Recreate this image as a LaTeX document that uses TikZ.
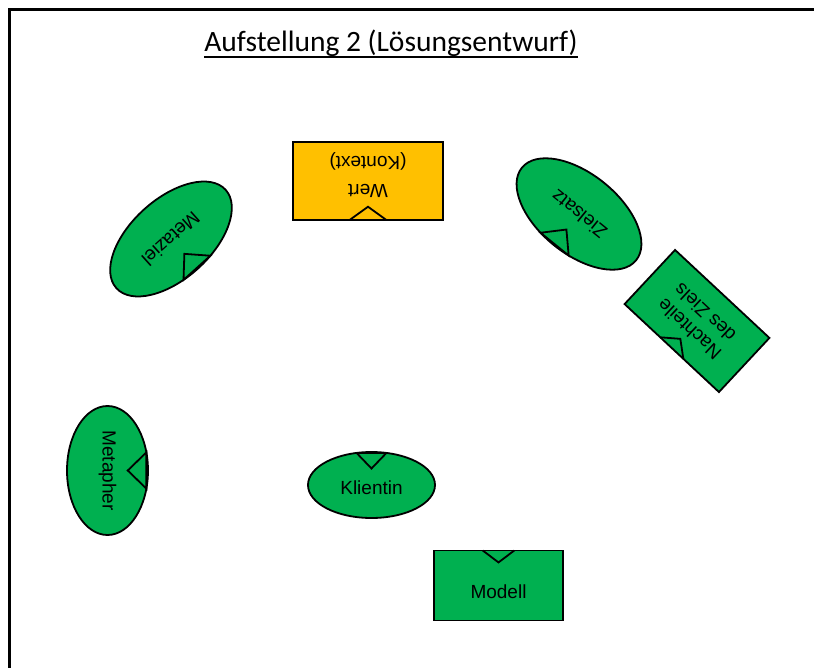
\documentclass[tikz,border=0pt]{standalone}
\usepackage{fontspec}
\newfontfamily\lblfont{Liberation Sans}
\newfontfamily\headfont{Carlito}
\usepackage[usenames,dvipsnames]{xcolor}
\usetikzlibrary{shapes.geometric, calc, positioning}
\definecolor{figgreen}{HTML}{00B050}
\definecolor{figgold}{HTML}{FFC000}

\begin{document}
\begin{tikzpicture}[x=1pt,y=-1pt,
 every node/.style={font=\lblfont\fontsize{19}{22.5}\selectfont},
 oval/.style={ellipse,draw,line width=1.8pt,fill=figgreen,outer sep=0pt,inner sep=2pt,
   minimum width=147pt,minimum height=80pt},
 card/.style={rectangle,draw,line width=1.8pt,fill=figgreen,outer sep=0pt,align=center,
   minimum width=129pt,minimum height=70pt},
 notch/.style={line width=1.8pt,line join=miter}]
 \useasboundingbox (0,0) rectangle (814,668);
 \draw[line width=2.7pt] (9.3,668) -- (9.3,9.3) -- (814,9.3);
 \node[font=\headfont\fontsize{29.5}{34}\selectfont,inner sep=0pt,anchor=base] (title) at (391,52) {Aufstellung 2 (Lösungsentwurf)};
 \draw[line width=1.5pt] ([yshift=-5pt]title.base west) -- ([yshift=-5pt]title.base east);
 \node[oval,rotate=222] (metaziel) at (171,239) {Metaziel};
 \node[card,fill=figgold,rotate=180,minimum width=150pt,minimum height=78pt,
   font=\lblfont\fontsize{19}{28}\selectfont] (wert) at (368,181) {\rule{0pt}{24pt}Wert\\(Kontext)};
 \node[oval,rotate=141] (zielsatz) at (579,214) {Zielsatz};
 \node[card,rotate=137,minimum height=74pt] (nachteile) at (697,321) {Nachteile\\des Ziels};
 \node[oval,rotate=-90,minimum width=129pt,minimum height=81pt] (metapher) at (107.5,470.5) {Metapher};
 \node[oval,minimum width=127pt,minimum height=66pt] (klientin) at (371.5,485) {\rule{0pt}{19.6pt}Klientin};
 \node[card] (modell) at (498.5,585.5) {\rule{0pt}{27pt}Modell};
 \foreach \n in {metaziel,zielsatz,metapher,klientin}
  \draw[notch] (\n.65) -- ($(\n.north)!.5!(\n.center)$) -- (\n.115) -- cycle;
 \foreach \n in {wert,nachteile,modell}
  \draw[notch] ($(\n.north)!.245!(\n.north west)$) -- ($(\n.north)!.34!(\n.center)$) -- ($(\n.north)!.245!(\n.north east)$);
\end{tikzpicture}
\end{document}
